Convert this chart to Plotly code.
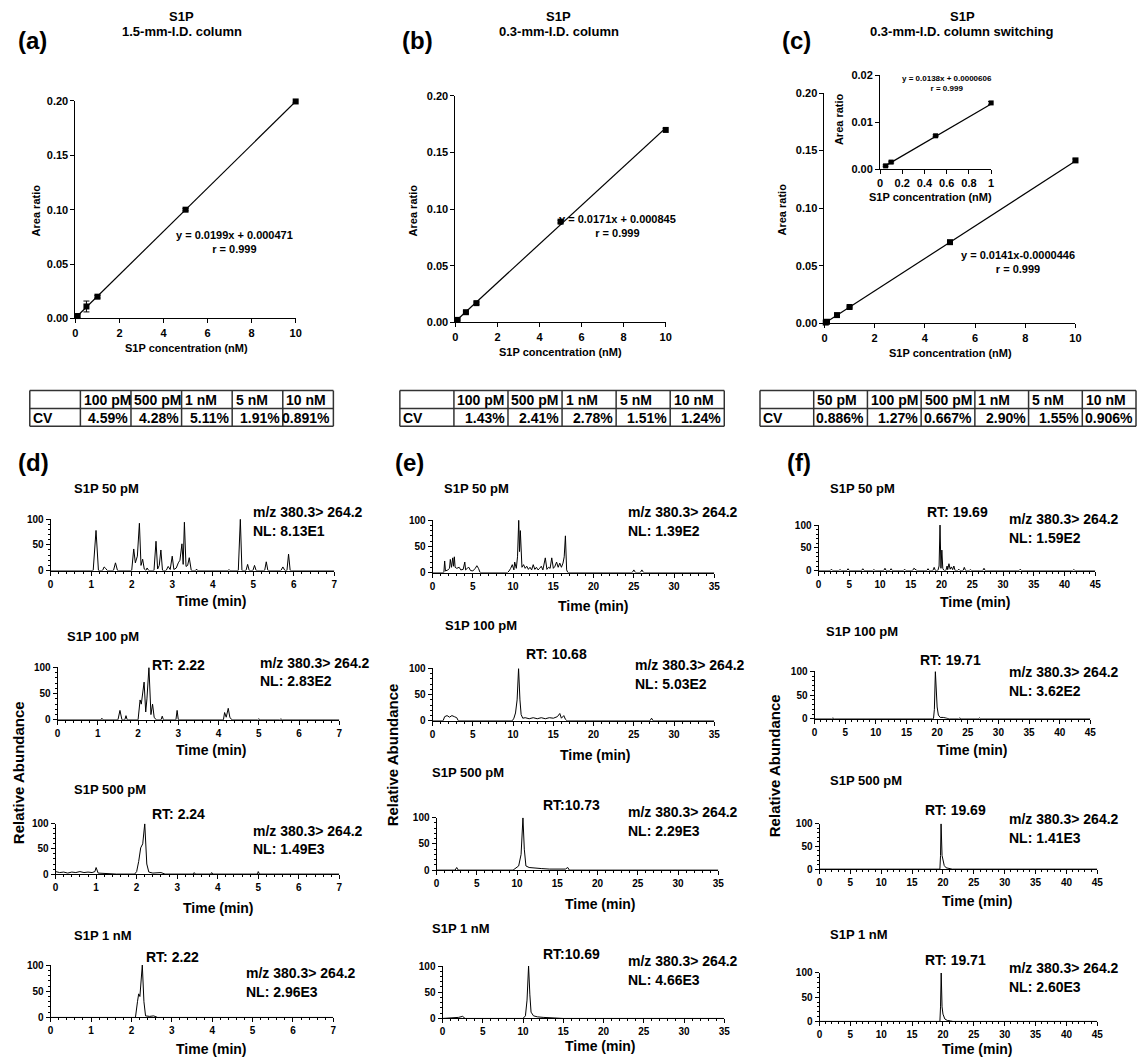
import plotly.graph_objects as go

W, H = 1143, 1063
FONT = "Arial, Liberation Sans, sans-serif"

# ---------------- calibration data ----------------
conc_a = [0.1, 0.5, 1, 5, 10]
ratio_a = [0.0022, 0.0110, 0.0200, 0.1000, 0.1995]
err_a = [0.0020, 0.0050, 0.0012, 0.0010, 0.0012]
fit_a = [0.0199, 0.000471]
eq_a = "y = 0.0199x + 0.000471<br>r = 0.999"

conc_b = [0.1, 0.5, 1, 5, 10]
ratio_b = [0.0022, 0.0090, 0.0170, 0.0890, 0.1700]
err_b = [0.0008, 0.0010, 0.0010, 0.0012, 0.0012]
fit_b = [0.0171, 0.000845]
eq_b = "y = 0.0171x + 0.000845<br>r = 0.999"

conc_c = [0.05, 0.1, 0.5, 1, 5, 10]
ratio_c = [0.0007, 0.0014, 0.0072, 0.0142, 0.0705, 0.1415]
err_c = [0.0006, 0.0006, 0.0008, 0.0008, 0.0010, 0.0012]
fit_c = [0.0141, -0.0000446]
eq_c = "y = 0.0141x-0.0000446<br>r = 0.999"

conc_ci = [0.05, 0.1, 0.5, 1]
ratio_ci = [0.0007, 0.0015, 0.0071, 0.0141]
err_ci = [0.0002, 0.0002, 0.0002, 0.0003]
fit_ci = [0.0138, 0.0000606]
eq_ci = "y = 0.0138x + 0.0000606<br>r = 0.999"

# ---------------- CV tables ----------------
head_a = ["", "100 pM", "500 pM", "1 nM", "5 nM", "10 nM"]
cv_a = ["CV", "4.59%", "4.28%", "5.11%", "1.91%", "0.891%"]
head_b = ["", "100 pM", "500 pM", "1 nM", "5 nM", "10 nM"]
cv_b = ["CV", "1.43%", "2.41%", "2.78%", "1.51%", "1.24%"]
head_c = ["", "50 pM", "100 pM", "500 pM", "1 nM", "5 nM", "10 nM"]
cv_c = ["CV", "0.886%", "1.27%", "0.667%", "2.90%", "1.55%", "0.906%"]

# ---------------- chromatograms (time min, relative abundance) ----------------
d50 = [(0, 0), (1.05, 0), (1.12, 78), (1.18, 0), (1.28, 0), (1.32, 7), (1.36, 4), (1.40, 0),
       (1.55, 0), (1.60, 15), (1.65, 0), (2.00, 0), (2.05, 42), (2.09, 15), (2.14, 28), (2.19, 92),
       (2.23, 10), (2.27, 22), (2.31, 3), (2.35, 0), (2.38, 5), (2.42, 0), (2.55, 0), (2.60, 57),
       (2.64, 3), (2.68, 10), (2.72, 40), (2.76, 0), (2.85, 0), (2.90, 8), (2.95, 2), (3.00, 28),
       (3.04, 2), (3.10, 5), (3.15, 15), (3.19, 20), (3.24, 52), (3.27, 12), (3.30, 94), (3.34, 8),
       (3.38, 10), (3.42, 25), (3.47, 0), (3.58, 0), (3.60, 3), (3.62, 0), (4.38, 0), (4.40, 2),
       (4.42, 0), (4.63, 0), (4.68, 100), (4.72, 0), (4.82, 0), (4.86, 12), (4.90, 0), (4.99, 0),
       (5.03, 10), (5.07, 0), (5.28, 0), (5.32, 17), (5.36, 0), (5.68, 0), (5.73, 7), (5.78, 0),
       (5.83, 0), (5.87, 32), (5.91, 0), (7.0, 0)]
d100 = [(0, 0), (1.08, 0), (1.10, 3), (1.13, 0), (1.50, 0), (1.55, 18), (1.60, 0), (1.67, 0),
        (1.70, 8), (1.73, 0), (2.00, 0), (2.05, 38), (2.08, 30), (2.11, 45), (2.15, 72), (2.19, 15),
        (2.22, 40), (2.27, 100), (2.32, 10), (2.36, 30), (2.40, 5), (2.45, 0), (2.57, 0), (2.60, 7),
        (2.63, 0), (2.94, 0), (2.97, 18), (3.00, 0), (4.12, 0), (4.15, 14), (4.19, 5), (4.24, 22),
        (4.28, 5), (4.33, 0), (4.97, 0), (5.00, 2), (5.03, 0), (5.52, 0), (5.55, 2), (5.58, 0), (7, 0)]
d500 = [(0, 5), (0.1, 3), (0.2, 4), (0.3, 2), (0.4, 4), (0.5, 3), (0.6, 5), (0.7, 3), (0.8, 4),
        (0.9, 3), (0.97, 5), (1.0, 13), (1.05, 2), (1.2, 1), (1.5, 0), (1.95, 0), (2.0, 5), (2.05, 25),
        (2.1, 52), (2.15, 60), (2.2, 100), (2.25, 20), (2.3, 4), (2.4, 2), (2.6, 3), (2.7, 0),
        (3.4, 0), (3.42, 3), (3.45, 0), (3.83, 0), (3.85, 3), (3.88, 0), (4.98, 0), (5.0, 5),
        (5.03, 0), (7, 0)]
d1n = [(0, 0), (2.10, 0), (2.15, 30), (2.18, 45), (2.21, 40), (2.25, 80), (2.27, 100), (2.31, 30),
       (2.35, 3), (2.45, 2), (2.55, 3), (2.65, 0), (7, 0)]

e50 = [(0, 0), (1.4, 0), (1.5, 22), (1.6, 3), (1.9, 5), (2.1, 8), (2.2, 25), (2.35, 10), (2.5, 28),
       (2.6, 12), (2.7, 30), (2.8, 10), (3.0, 8), (3.3, 10), (3.5, 5), (3.8, 6), (4.0, 20), (4.1, 5),
       (4.3, 8), (4.5, 10), (4.7, 4), (5.0, 3), (5.3, 8), (5.5, 13), (5.7, 8), (5.9, 0), (9.3, 0),
       (9.5, 3), (9.7, 8), (9.9, 15), (10.1, 5), (10.2, 20), (10.4, 8), (10.55, 30), (10.7, 100),
       (10.8, 40), (10.9, 80), (11.0, 20), (11.1, 10), (11.3, 15), (11.5, 8), (11.7, 12), (11.9, 6),
       (12.1, 10), (12.3, 5), (12.5, 15), (12.7, 6), (12.9, 10), (13.1, 5), (13.3, 8), (13.5, 12),
       (13.7, 5), (14.0, 28), (14.2, 6), (14.4, 10), (14.6, 8), (14.8, 28), (15.0, 8), (15.2, 12),
       (15.4, 20), (15.6, 10), (15.8, 18), (16.0, 10), (16.2, 18), (16.35, 30), (16.5, 70),
       (16.65, 5), (16.8, 0), (24.8, 0), (25.0, 5), (25.2, 0), (25.8, 0), (26.0, 5), (26.2, 0), (35, 0)]
e100 = [(0, 0), (1.3, 0), (1.5, 8), (1.8, 10), (2.1, 7), (2.4, 10), (2.7, 8), (3.0, 6), (3.2, 0),
        (9.9, 0), (10.1, 5), (10.3, 15), (10.5, 40), (10.68, 100), (10.85, 40), (11.0, 12), (11.2, 5),
        (11.5, 6), (12, 4), (12.5, 6), (13, 4), (13.5, 6), (14, 4), (14.5, 6), (15, 5), (15.5, 8),
        (15.8, 14), (16.0, 5), (16.3, 10), (16.5, 3), (16.7, 0), (27.0, 0), (27.2, 5), (27.4, 0), (35, 0)]
e500 = [(0, 0), (2.3, 0), (2.5, 5), (2.7, 0), (9.5, 0), (9.8, 3), (10.2, 8), (10.5, 30), (10.73, 100),
        (10.9, 40), (11.1, 8), (11.5, 5), (12, 4), (13, 3), (14, 2), (15, 2), (16, 2), (16.3, 5),
        (16.5, 0), (35, 0)]
e1n = [(0, 0), (1.5, 1), (2.0, 2), (2.5, 4), (2.8, 0), (10.0, 0), (10.3, 5), (10.5, 35), (10.69, 100),
       (10.85, 45), (11.0, 12), (11.3, 5), (11.8, 3), (12.5, 2), (13.5, 1), (15, 0), (35, 0)]

f50 = [(0, 0), (1.9, 0), (2.1, 3), (2.3, 0), (3.3, 0), (3.5, 2), (3.7, 0), (4.6, 0), (4.8, 4), (5.0, 0),
       (7.0, 0), (7.2, 4), (7.4, 0), (8.8, 0), (9.0, 2), (9.2, 0), (10.6, 0), (10.8, 5), (11.0, 0),
       (11.6, 0), (11.8, 4), (12.0, 0), (13.8, 0), (14.0, 3), (14.2, 0), (15.3, 0), (15.5, 5), (15.8, 3),
       (16.0, 0), (17.6, 0), (17.8, 4), (18.0, 0), (18.6, 0), (18.8, 7), (19.0, 0), (19.4, 0), (19.6, 10),
       (19.75, 100), (19.9, 5), (20.05, 45), (20.2, 5), (20.4, 0), (20.7, 0), (20.9, 10), (21.0, 2),
       (21.2, 15), (21.4, 3), (21.6, 8), (21.8, 2), (22.0, 10), (22.2, 0), (22.6, 0), (22.8, 3), (23.0, 0),
       (23.5, 0), (23.7, 7), (23.9, 0), (24.5, 0), (24.7, 2), (24.9, 0), (26.7, 0), (26.9, 5), (27.1, 0),
       (32.6, 0), (32.8, 3), (33.0, 0), (41.3, 0), (41.5, 2), (41.7, 0), (45, 0)]
f100 = [(0, 0), (2.8, 0), (3.0, 2), (3.2, 0), (19.4, 0), (19.55, 20), (19.71, 100), (19.85, 45),
        (20.0, 25), (20.2, 8), (20.5, 3), (21, 3), (21.5, 2), (22, 0), (23.5, 0), (23.7, 2), (23.9, 0),
        (26.7, 0), (26.9, 2), (27.1, 0), (45, 0)]
f500 = [(0, 0), (19.5, 0), (19.6, 30), (19.69, 100), (19.85, 30), (20.0, 20), (20.2, 8), (20.5, 3),
        (21, 1), (21.5, 0), (45, 0)]
f1n = [(0, 0), (19.5, 0), (19.6, 30), (19.71, 100), (19.85, 30), (20.0, 15), (20.3, 5), (20.7, 2),
       (21.2, 1), (21.6, 0), (45, 0)]

sample_labels = ["S1P 50 pM", "S1P 100 pM", "S1P 500 pM", "S1P 1 nM"]
rt_d = [None, "RT: 2.22", "RT: 2.24", "RT: 2.22"]
rt_e = [None, "RT: 10.68", "RT:10.73", "RT:10.69"]
rt_f = ["RT: 19.69", "RT: 19.71", "RT: 19.69", "RT: 19.71"]
nl_d = ["NL: 8.13E1", "NL: 2.83E2", "NL: 1.49E3", "NL: 2.96E3"]
nl_e = ["NL: 1.39E2", "NL: 5.03E2", "NL: 2.29E3", "NL: 4.66E3"]
nl_f = ["NL: 1.59E2", "NL: 3.62E2", "NL: 1.41E3", "NL: 2.60E3"]
transition = "m/z 380.3> 264.2"

# ---------------- helpers ----------------
fig = go.Figure()
layout = {}
annotations = []
shapes = []
counter = [0]


def fx(px):
    return px / W


def fy(py):
    return 1 - py / H


def ann(text, x, y, size, xanchor="center", yanchor="middle", angle=0):
    annotations.append(dict(text=text, x=fx(x), y=fy(y), xref="paper", yref="paper",
                            xanchor=xanchor, yanchor=yanchor, showarrow=False, textangle=angle,
                            font=dict(family=FONT, size=size, color="black", weight="bold")))


def add_axes(xl, xr, yt, yb, xcfg, ycfg):
    counter[0] += 1
    n = counter[0]
    s = "" if n == 1 else str(n)
    base = dict(showline=True, linecolor="black", linewidth=1, showgrid=False, zeroline=False,
                ticks="outside", tickcolor="black", tickwidth=1)
    xa = dict(base, domain=[fx(xl), fx(xr)], anchor="y" + s)
    xa.update(xcfg)
    ya = dict(base, domain=[fy(yb), fy(yt)], anchor="x" + s)
    ya.update(ycfg)
    layout["xaxis" + s] = xa
    layout["yaxis" + s] = ya
    return "x" + s, "y" + s


def calib(conc, ratio, err, fit, box, ymax, ydtick, xcfg_extra, eq, eq_pos, eq_size, msize, tfs):
    xl, xr, yt, yb = box
    xcfg = dict(range=[0, conc[-1] if conc[-1] > 1 else 1], ticklen=4,
                tickfont=dict(family=FONT, size=tfs, color="black", weight="bold"))
    xcfg.update(xcfg_extra)
    ycfg = dict(range=[0, ymax], dtick=ydtick, tickformat=".2f", ticklen=4,
                tickfont=dict(family=FONT, size=tfs, color="black", weight="bold"))
    xa, ya = add_axes(xl, xr, yt, yb, xcfg, ycfg)
    lx = [conc[0], conc[-1]]
    ly = [fit[0] * v + fit[1] for v in lx]
    fig.add_trace(go.Scatter(x=lx, y=ly, mode="lines", line=dict(color="black", width=1.2),
                             xaxis=xa, yaxis=ya, showlegend=False, hoverinfo="skip"))
    fig.add_trace(go.Scatter(x=conc, y=ratio, mode="markers",
                             marker=dict(symbol="square", size=msize, color="black"),
                             error_y=dict(type="data", array=err, color="black", thickness=1, width=3),
                             cliponaxis=False, xaxis=xa, yaxis=ya, showlegend=False))
    ann(eq, eq_pos[0], eq_pos[1], eq_size)


# ---------------- calibration panels ----------------
calib(conc_a, ratio_a, err_a, fit_a, (73, 295, 96, 316), 0.2, 0.05, dict(dtick=2),
      eq_a, (233, 239), 11, 6, 11)
calib(conc_b, ratio_b, err_b, fit_b, (456, 668, 91, 320), 0.2, 0.05, dict(dtick=2),
      eq_b, (619, 223), 11, 6, 11)
calib(conc_c, ratio_c, err_c, fit_c, (828, 1081, 88, 321), 0.2, 0.05, dict(dtick=2),
      eq_c, (1023, 259), 11, 6, 11)
calib(conc_ci, ratio_ci, err_ci, fit_ci, (884, 996, 70, 165), 0.02, 0.01,
      dict(range=[0, 1], tickvals=[0, 0.2, 0.4, 0.6, 0.8, 1]),
      eq_ci, (951, 78), 8, 5, 11)

# calibration titles / labels
for lab, lx, tx, sub in [("(a)", 13, 180, "1.5-mm-I.D. column"),
                         ("(b)", 400, 560, "0.3-mm-I.D. column"),
                         ("(c)", 783, 967, "0.3-mm-I.D. column switching")]:
    ann(lab, lx, 35, 24, xanchor="left")
    ann("S1P", tx, 11, 13)
    ann(sub, tx, 26, 13)

ann("Area ratio", 33, 207, 11, angle=-90)
ann("Area ratio", 413, 207, 11, angle=-90)
ann("Area ratio", 785, 206, 11, angle=-90)
ann("Area ratio", 842, 114, 11, angle=-90)
ann("S1P concentration (nM)", 185, 346, 11)
ann("S1P concentration (nM)", 562, 350, 11)
ann("S1P concentration (nM)", 955, 351, 11)
ann("S1P concentration (nM)", 935, 193, 11)

# ---------------- tables (grid drawn as shapes, text as annotations) ----------------
ROW_T, ROW_M, ROW_B = 389, 407, 425
LINE = dict(color="#333333", width=1.5)
for head, cv, x0, x1 in [(head_a, cv_a, 27, 333), (head_b, cv_b, 400, 727), (head_c, cv_c, 763, 1142)]:
    ncol = len(head)
    cw = (x1 - x0) / ncol
    for yy in (ROW_T, ROW_M, ROW_B):
        shapes.append(dict(type="line", xref="paper", yref="paper", x0=fx(x0), x1=fx(x1),
                           y0=fy(yy), y1=fy(yy), line=LINE))
    for i in range(ncol + 1):
        xx = x0 + i * cw
        shapes.append(dict(type="line", xref="paper", yref="paper", x0=fx(xx), x1=fx(xx),
                           y0=fy(ROW_T), y1=fy(ROW_B), line=LINE))
    for i in range(ncol):
        cl = x0 + i * cw
        if head[i]:
            ann(head[i], cl + 1.5, (ROW_T + ROW_M) / 2 + 0.5, 14, xanchor="left")
        if i == 0:
            ann(cv[i], cl + 1.5, (ROW_M + ROW_B) / 2 + 0.5, 14, xanchor="left")
        else:
            ann(cv[i], cl + cw - 1, (ROW_M + ROW_B) / 2 + 0.5, 14, xanchor="right")

# ---------------- chromatograms ----------------
chrom_cols = [
    dict(data=[d50, d100, d500, d1n], xmax=7, dtick=1, minor=0.2, rts=rt_d, nls=nl_d,
         boxes=[(48, 334, 519, 571), (55, 339, 669, 722), (53, 339, 827, 878), (48, 333, 970, 1023)],
         lab=[(70, 488), (62, 638), (70, 792), (70, 940)],
         rt=[None, (148, 667, "left"), (148, 817, "left"), (142, 962, "left")],
         mz=[(250, 512), (257, 664), (250, 834), (243, 978)],
         tm=[(210, 602), (210, 753), (217, 912), (210, 1055)]),
    dict(data=[e50, e100, e500, e1n], xmax=35, dtick=5, minor=1, rts=rt_e, nls=nl_e,
         boxes=[(433, 717, 520, 573), (433, 717, 670, 723), (437, 721, 821, 874), (443, 727, 971, 1024)],
         lab=[(442, 488), (443, 627), (430, 775), (430, 933)],
         rt=[None, (558, 655, "center"), (573, 808, "center"), (573, 959, "center")],
         mz=[(628, 512), (635, 667), (628, 815), (628, 966)],
         tm=[(595, 607), (597, 758), (602, 908), (602, 1052)]),
    dict(data=[f50, f100, f500, f1n], xmax=45, dtick=5, minor=1, rts=rt_f, nls=nl_f,
         boxes=[(822, 1101, 525, 571), (818, 1096, 673, 721), (823, 1103, 827, 873), (823, 1103, 978, 1027)],
         lab=[(832, 488), (828, 633), (832, 783), (832, 939)],
         rt=[(962, 512, "center"), (955, 661, "center"), (960, 813, "center"), (960, 965, "center")],
         mz=[(1012, 519), (1012, 674), (1012, 822), (1012, 973)],
         tm=[(980, 603), (977, 752), (982, 905), (982, 1055)]),
]

tickf = dict(family=FONT, size=10, color="black", weight="bold")
for col in chrom_cols:
    for k in range(4):
        xl, xr, yt, yb = col["boxes"][k]
        xcfg = dict(range=[0, col["xmax"]], dtick=col["dtick"], ticklen=4, tickfont=tickf,
                    minor=dict(dtick=col["minor"], ticks="outside", ticklen=2, tickcolor="black"))
        ycfg = dict(range=[0, 100], tickvals=[0, 50, 100], ticklen=4, tickfont=tickf,
                    minor=dict(dtick=10, ticks="outside", ticklen=2, tickcolor="black"))
        xa, ya = add_axes(xl, xr, yt, yb, xcfg, ycfg)
        pts = col["data"][k]
        fig.add_trace(go.Scatter(x=[p[0] for p in pts], y=[p[1] for p in pts], mode="lines",
                                 line=dict(color="black", width=1), xaxis=xa, yaxis=ya,
                                 showlegend=False, hoverinfo="skip"))
        ann(sample_labels[k], col["lab"][k][0], col["lab"][k][1], 13, xanchor="left")
        if col["rt"][k] is not None:
            rx, ry, ranc = col["rt"][k]
            ann(col["rts"][k], rx, ry, 14, xanchor=ranc)
        mx, my = col["mz"][k]
        ann(transition, mx, my, 14, xanchor="left")
        ann(col["nls"][k], mx, my + 19, 14, xanchor="left")
        ann("Time (min)", col["tm"][k][0], col["tm"][k][1], 14)

for lab, lx in [("(d)", 13), ("(e)", 393), ("(f)", 788)]:
    ann(lab, lx, 462, 24, xanchor="left")

ann("Relative Abundance", 15, 775, 15, angle=-90)
ann("Relative Abundance", 393, 757, 15, angle=-90)
ann("Relative Abundance", 777, 768, 15, angle=-90)

layout.update(dict(width=W, height=H, margin=dict(l=0, r=0, t=0, b=0),
                   paper_bgcolor="white", plot_bgcolor="white", annotations=annotations,
                   shapes=shapes, font=dict(family=FONT, color="black"), showlegend=False))
fig.update_layout(**layout)
fig.write_html("out.html", config={"displayModeBar": False},
               post_script="document.body.style.margin='0px';document.body.style.overflow='hidden';")
